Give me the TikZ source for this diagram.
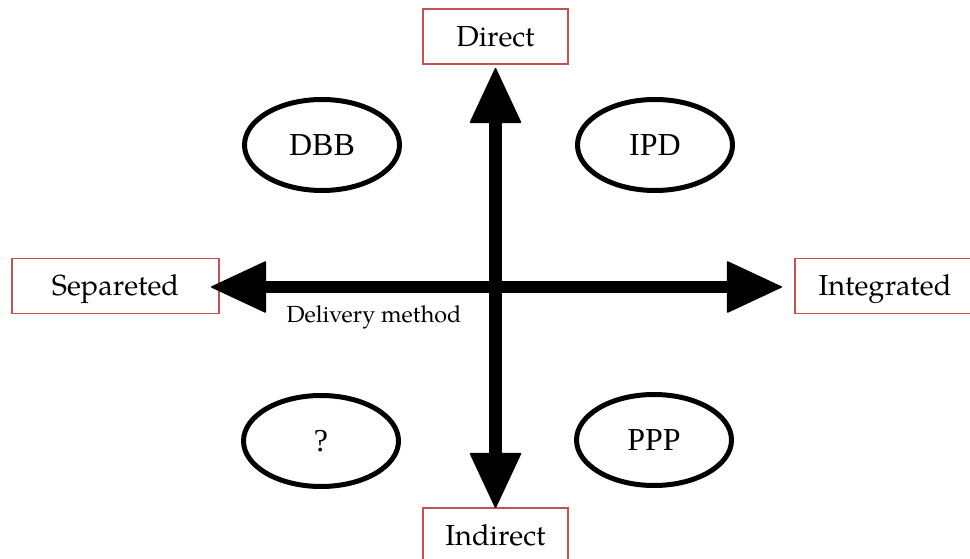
\documentclass[tikz,border=0pt]{standalone}
\usepackage{fontspec}
\setmainfont{TeX Gyre Pagella}
\newfontfamily\timesf{Liberation Serif}
\usetikzlibrary{arrows.meta,shapes.geometric}
\definecolor{boxred}{RGB}{196,82,80}
\begin{document}
\begin{tikzpicture}[x=0.75pt,y=-0.75pt,
  lab/.style={draw=boxred,line width=1.4pt,font=\fontsize{21.7}{26}\selectfont,
    text height=15pt,text depth=0pt,inner sep=0pt,minimum height=41.25pt},
  oval/.style={ellipse,draw,line width=3.75pt,minimum width=116.25pt,
    minimum height=68.25pt,inner sep=0pt,font=\timesf\fontsize{24}{28}\selectfont},
  axis/.style={line width=9.5pt,>={Triangle[length=42pt,width=39pt,line width=1pt,round]},<->},
  note/.style={font=\fontsize{17.5}{20}\selectfont,anchor=base,inner sep=0pt}]
\useasboundingbox (0,0) rectangle (970,559);
\node[lab,minimum width=108.75pt] (direct) at (495.5,36.5) {Direct};
\node[lab,minimum width=108.75pt] (indirect) at (495.5,535.5) {Indirect};
\node[lab,minimum width=155.25pt] (sep) at (115.5,286) {Separeted};
\node[lab,minimum width=135pt] (int) at (885,286) {Integrated};
\node[oval] (dbb) at (322,145) {DBB};
\node[oval] (ipd) at (655,145) {IPD};
\node[oval] (q) at (321,441) {?};
\node[oval] (ppp) at (654,440) {PPP};
\node[note] (dm) at (374,323) {Delivery method};
\draw[axis,shorten <=2.25pt,shorten >=-0.75pt] (direct.south) -- (indirect.north);
\draw[axis,shorten <=-6.75pt,shorten >=9pt] ([yshift=-0.75pt]sep.east) -- ([yshift=-0.75pt]int.west);
\end{tikzpicture}
\end{document}
